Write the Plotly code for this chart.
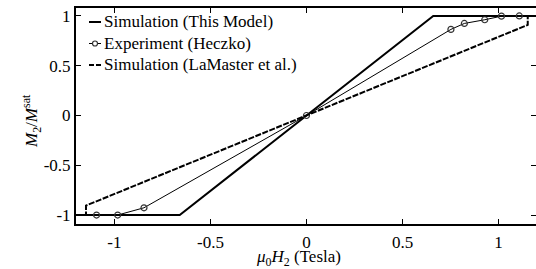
import plotly.graph_objects as go

# ---- data ----
model_x = [-1.2, -0.66, 0.66, 1.2]
model_y = [-1.0, -1.0, 1.0, 1.0]

exp_x = [-1.093, -0.983, -0.846, 0.0, 0.752, 0.822, 0.928, 1.015, 1.108]
exp_y = [-1.0, -1.0, -0.927, 0.0, 0.865, 0.925, 0.962, 0.998, 1.0]

lam_x = [-1.2, -1.148, -1.148, 1.152, 1.152, 1.2]
lam_y = [-1.0, -1.0, -0.905, 0.91, 1.0, 1.0]

x_ticks = [-1, -0.5, 0, 0.5, 1]
x_ticklabels = ["-1", "-0.5", "0", "0.5", "1"]
y_ticks = [-1, -0.5, 0, 0.5, 1]
y_ticklabels = ["-1", "-0.5", "0", "0.5", "1"]

legend_names = ["Simulation (This Model)", "Experiment (Heczko)", "Simulation (LaMaster et al.)"]

FONT = "Liberation Serif"
W, H = 536, 269
L, R, T, B = 76, 0, 8, 45
PW, PH = W - L - R, H - T - B

def px(xp):
    return (xp - L) / PW

def py(yp):
    return (H - B - yp) / PH

fig = go.Figure()
fig.add_trace(go.Scatter(x=model_x, y=model_y, mode="lines",
                         line=dict(color="black", width=2), showlegend=False))
fig.add_trace(go.Scatter(x=exp_x, y=exp_y, mode="lines+markers",
                         line=dict(color="black", width=1),
                         marker=dict(symbol="circle-open", size=6, color="#333",
                                     line=dict(width=1.2)),
                         showlegend=False))
fig.add_trace(go.Scatter(x=lam_x, y=lam_y, mode="lines",
                         line=dict(color="black", width=2, dash="6px,1.5px"),
                         showlegend=False))
# right-side ticks
fig.add_trace(go.Scatter(x=[None], y=[None], yaxis="y2", showlegend=False))

shapes = []
annotations = []
rows_y = [22, 43.5, 65]
for i, (name, ry) in enumerate(zip(legend_names, rows_y)):
    if i == 2:
        for a, b in [(89, 94), (96, 101)]:
            shapes.append(dict(type="line", xref="paper", yref="paper",
                               x0=px(a), x1=px(b), y0=py(ry), y1=py(ry),
                               line=dict(color="black", width=2)))
    else:
        shapes.append(dict(type="line", xref="paper", yref="paper",
                           x0=px(89), x1=px(101), y0=py(ry), y1=py(ry),
                           line=dict(color="black", width=2 if i == 0 else 1)))
    if i == 1:
        shapes.append(dict(type="circle", xref="paper", yref="paper",
                           x0=px(92.5), x1=px(97.5), y0=py(ry + 2.5), y1=py(ry - 2.5),
                           line=dict(color="#333", width=1.2), fillcolor="white"))
    annotations.append(dict(text=name, xref="paper", yref="paper",
                            x=px(102), y=py(ry), xanchor="left", yanchor="middle",
                            showarrow=False, font=dict(family=FONT, size=17, color="black")))

annotations.append(dict(text="<i>μ</i><sub>0</sub><i>H</i><sub>2</sub> (Tesla)",
                        xref="paper", yref="paper", x=px(298), y=py(258),
                        xanchor="center", yanchor="middle", showarrow=False,
                        font=dict(family=FONT, size=17, color="black")))
annotations.append(dict(text="<i>M</i><sub>2</sub>/<i>M</i><sup>sat</sup>",
                        xref="paper", yref="paper", x=px(31), y=py(121),
                        xanchor="center", yanchor="middle", showarrow=False, textangle=-90,
                        font=dict(family=FONT, size=17, color="black")))

fig.update_layout(
    width=W, height=H,
    margin=dict(l=L, r=R, t=T, b=B, autoexpand=False),
    paper_bgcolor="white", plot_bgcolor="white",
    font=dict(family=FONT, size=17, color="black"),
    shapes=shapes, annotations=annotations,
    xaxis=dict(range=[-1.2, 1.195], tickvals=x_ticks, ticktext=x_ticklabels,
               ticks="inside", ticklen=5, tickwidth=1, tickcolor="black",
               showline=True, linecolor="black", linewidth=2, mirror="ticks",
               showgrid=False, zeroline=False, ticklabelstandoff=2, automargin=False),
    yaxis=dict(range=[-1.09, 1.08], tickvals=y_ticks, ticktext=y_ticklabels,
               ticks="inside", ticklen=5, tickwidth=1, tickcolor="black",
               showline=True, linecolor="black", linewidth=2,
               showgrid=False, zeroline=False, ticklabelstandoff=0, automargin=False),
    yaxis2=dict(range=[-1.09, 1.08], tickvals=y_ticks, overlaying="y", side="right",
                ticks="inside", ticklen=5, tickwidth=1, tickcolor="black",
                showticklabels=False, showline=False, showgrid=False, zeroline=False,
                automargin=False),
    showlegend=False,
)

fig.write_html("out.html", config={"displayModeBar": False},
               post_script="document.body.style.margin='0';document.body.style.overflow='hidden';")
